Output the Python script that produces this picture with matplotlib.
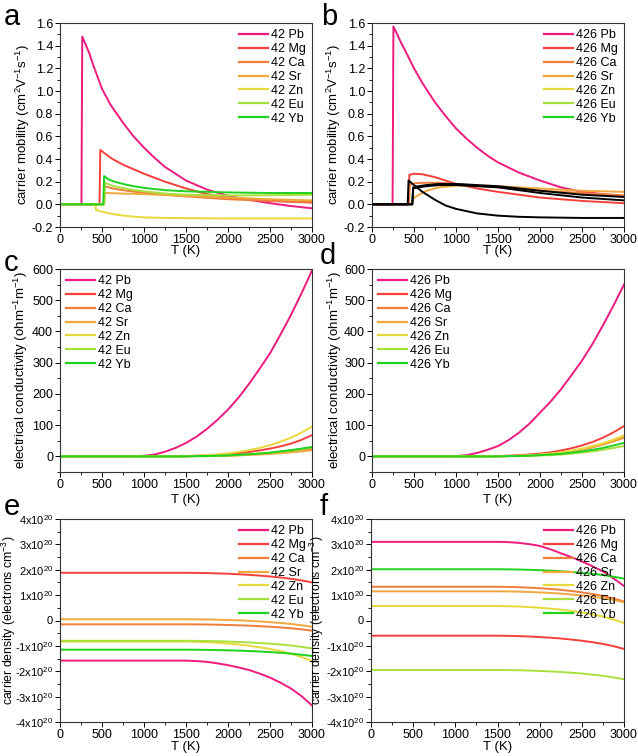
import numpy as np
import matplotlib
matplotlib.use("Agg")
import matplotlib.pyplot as plt
from matplotlib.lines import Line2D
from matplotlib.ticker import MultipleLocator, FuncFormatter

plt.rcParams.update({
    'font.family': ['Liberation Sans', 'DejaVu Sans'],
    'mathtext.default': 'regular',
    'axes.unicode_minus': False,
    'font.size': 9,
})

ELEMS = ["Pb", "Mg", "Ca", "Sr", "Zn", "Eu", "Yb"]
COLORS = ["#EE1A7E", "#F5403A", "#F07D3A", "#F0A83C", "#E8D83C", "#A8E03C", "#1ED21E"]

# ── carrier mobility, 42 (T in K, mu in cm2/Vs) ────────────────────────────────
mob42_T = {
    "Pb": [0, 255, 265, 300, 350, 400, 500, 600, 750, 875, 1000, 1125, 1250, 1375, 1500,
           1750, 2000, 2250, 2500, 2750, 3000],
    "Mg": [0, 470, 480, 550, 625, 750, 875, 1000, 1250, 1500, 1750, 2000, 2500, 3000],
    "Ca": [0, 520, 530, 600, 700, 850, 1000, 1250, 1500, 2000, 2500, 3000],
    "Sr": [0, 525, 535, 750, 1000, 1500, 2000, 2500, 3000],
    "Zn": [0, 420, 430, 500, 600, 700, 850, 1000, 1250, 1500, 2000, 3000],
    "Eu": [0, 525, 535, 600, 700, 850, 1000, 1250, 1500, 2000, 2500, 3000],
    "Yb": [0, 515, 525, 575, 650, 750, 875, 1000, 1250, 1500, 2000, 2500, 3000],
}
mob42_v = {
    "Pb": [0, 0, 1.48, 1.42, 1.33, 1.22, 1.02, 0.88, 0.72, 0.6, 0.5, 0.41, 0.33, 0.27, 0.21,
           0.13, 0.075, 0.04, 0.01, -0.015, -0.035],
    "Mg": [0, 0, 0.48, 0.44, 0.4, 0.35, 0.31, 0.27, 0.2, 0.14, 0.09, 0.06, 0.03, 0.015],
    "Ca": [0, 0, 0.16, 0.145, 0.13, 0.115, 0.1, 0.085, 0.07, 0.045, 0.03, 0.02],
    "Sr": [0, 0, 0.1, 0.095, 0.09, 0.075, 0.06, 0.045, 0.035],
    "Zn": [0, 0, -0.05, -0.065, -0.082, -0.095, -0.107, -0.115, -0.12, -0.122, -0.125, -0.125],
    "Eu": [0, 0, 0.19, 0.17, 0.15, 0.13, 0.115, 0.095, 0.085, 0.078, 0.08, 0.085],
    "Yb": [0, 0, 0.25, 0.22, 0.2, 0.18, 0.16, 0.145, 0.125, 0.115, 0.105, 0.1, 0.1],
}

# ── carrier mobility, 426 ─────────────────────────────────────────────────────
mob426_T = {
    "Pb": [0, 245, 255, 300, 350, 400, 500, 600, 750, 875, 1000, 1125, 1250, 1375, 1500,
           1750, 2000, 2250, 2500, 2750, 3000],
    "Mg": [0, 435, 445, 500, 600, 750, 1000, 1250, 1500, 2000, 2500, 3000],
    "Ca": [0, 440, 450, 500, 600, 800, 1000, 1500, 2000, 2500, 3000],
    "Sr": [0, 475, 485, 550, 650, 800, 1000, 1250, 1500, 2000, 2500, 3000],
    "Zn": [0, 425, 435, 500, 600, 750, 875, 1000, 1250, 1500, 1750, 2000, 2500, 3000],
    "Eu": [0, 480, 490, 550, 650, 800, 1000, 1250, 1500, 2000, 2500, 3000],
    "Yb": [0, 480, 490, 550, 650, 800, 1000, 1250, 1500, 2000, 2500, 3000],
}
mob426_v = {
    "Pb": [0, 0, 1.57, 1.5, 1.42, 1.35, 1.2, 1.07, 0.9, 0.78, 0.67, 0.58, 0.5, 0.43, 0.37,
           0.28, 0.21, 0.15, 0.11, 0.09, 0.07],
    "Mg": [0, 0, 0.26, 0.27, 0.265, 0.24, 0.18, 0.14, 0.11, 0.06, 0.03, 0.01],
    "Ca": [0, 0, 0.17, 0.185, 0.19, 0.19, 0.18, 0.15, 0.12, 0.1, 0.08],
    "Sr": [0, 0, 0.05, 0.08, 0.12, 0.15, 0.165, 0.165, 0.16, 0.14, 0.12, 0.11],
    "Zn": [0, 0, 0.21, 0.17, 0.11, 0.04, -0.01, -0.04, -0.08, -0.1, -0.11, -0.115, -0.12, -0.12],
    "Eu": [0, 0, 0.15, 0.16, 0.17, 0.18, 0.18, 0.17, 0.16, 0.12, 0.085, 0.065],
    "Yb": [0, 0, 0.14, 0.15, 0.16, 0.17, 0.17, 0.16, 0.15, 0.1, 0.06, 0.035],
}
# Zn, Eu, Yb curves show up black in panel b
mob426_line = {"Zn": "black", "Eu": "black", "Yb": "black"}

# ── conductivity and carrier density on a common T grid ──────────────────────
T_grid = [0, 250, 500, 750, 1000, 1125, 1250, 1375, 1500, 1625, 1750, 1875, 2000,
          2125, 2250, 2375, 2500, 2625, 2750, 2875, 3000]

Z8 = [0] * 8   # flat part, 0..1375 K
cond42 = {
    "Pb": [0, 0, 0, 0, 2, 6, 15, 27, 43, 63, 88, 117, 150, 188, 232, 280, 330, 390, 453, 522, 595],
    "Mg": Z8 + [1, 2, 3, 5, 7, 10, 14, 19, 25, 32, 41, 53, 68],
    "Ca": Z8 + [0, 1, 1, 2, 3, 4, 6, 8, 10, 13, 16, 20, 24],
    "Sr": Z8 + [0, 1, 1, 2, 2, 3, 5, 6, 8, 10, 13, 16, 20],
    "Zn": Z8 + [1, 2, 4, 6, 10, 14, 20, 27, 36, 47, 60, 76, 95],
    "Eu": Z8 + [0, 1, 1, 2, 3, 4, 6, 9, 12, 15, 19, 23, 28],
    "Yb": Z8 + [0, 1, 1, 2, 3, 5, 7, 9, 12, 16, 20, 25, 30],
}
cond426 = {
    "Pb": [0, 0, 0, 0, 1, 4, 11, 21, 33, 52, 76, 105, 140, 175, 215, 260, 307, 360, 420, 483, 550],
    "Mg": Z8 + [1, 2, 4, 6, 9, 13, 19, 26, 35, 46, 60, 77, 97],
    "Ca": Z8 + [0, 1, 2, 3, 5, 8, 11, 16, 22, 29, 38, 48, 60],
    "Sr": Z8 + [0, 1, 2, 3, 5, 8, 12, 17, 23, 30, 39, 50, 62],
    "Zn": Z8 + [0, 1, 2, 3, 6, 9, 13, 18, 25, 33, 42, 54, 67],
    "Eu": Z8 + [0, 1, 1, 2, 3, 4, 6, 9, 12, 16, 21, 27, 33],
    "Yb": Z8 + [0, 1, 1, 2, 4, 6, 8, 12, 16, 21, 27, 35, 43],
}

# carrier density in units of 1e20 electrons/cm3 (flat below 1500 K)
dens42 = {
    "Pb": [-1.58] * 8 + [-1.58, -1.60, -1.63, -1.69, -1.76, -1.85, -1.95, -2.09, -2.25, -2.45, -2.68, -2.98, -3.35],
    "Mg": [1.88] * 8 + [1.88, 1.876, 1.869, 1.857, 1.842, 1.823, 1.8, 1.77, 1.736, 1.694, 1.644, 1.58, 1.5],
    "Ca": [-0.15] * 8 + [-0.15, -0.152, -0.158, -0.165, -0.175, -0.188, -0.203, -0.223, -0.245, -0.273, -0.305, -0.348, -0.4],
    "Sr": [0.05] * 8 + [0.05, 0.047, 0.041, 0.032, 0.02, 0.005, -0.013, -0.037, -0.064, -0.097, -0.136, -0.187, -0.25],
    "Zn": [-0.83] * 8 + [-0.83, -0.838, -0.853, -0.876, -0.907, -0.946, -0.992, -1.053, -1.123, -1.207, -1.307, -1.438, -1.6],
    "Eu": [-0.8] * 8 + [-0.8, -0.803, -0.809, -0.818, -0.83, -0.845, -0.863, -0.887, -0.914, -0.947, -0.986, -1.037, -1.1],
    "Yb": [-1.15] * 8 + [-1.15, -1.152, -1.158, -1.165, -1.175, -1.188, -1.203, -1.223, -1.245, -1.273, -1.305, -1.348, -1.4],
}
dens426 = {
    "Pb": [3.1] * 8 + [3.1, 3.09, 3.06, 3.01, 2.94, 2.81, 2.65, 2.5, 2.33, 2.14, 1.93, 1.66, 1.36],
    "Mg": [-0.6] * 8 + [-0.6, -0.605, -0.616, -0.631, -0.652, -0.678, -0.709, -0.751, -0.798, -0.855, -0.922, -1.011, -1.12],
    "Ca": [1.33] * 8 + [1.33, 1.324, 1.313, 1.295, 1.272, 1.243, 1.208, 1.162, 1.11, 1.046, 0.97, 0.872, 0.75],
    "Sr": [1.15] * 8 + [1.15, 1.146, 1.137, 1.124, 1.107, 1.086, 1.06, 1.025, 0.987, 0.939, 0.883, 0.81, 0.72],
    "Zn": [0.57] * 8 + [0.57, 0.563, 0.55, 0.53, 0.503, 0.47, 0.429, 0.376, 0.315, 0.242, 0.155, 0.041, -0.1],
    "Eu": [-1.95] * 8 + [-1.95, -1.954, -1.961, -1.972, -1.987, -2.006, -2.028, -2.057, -2.091, -2.131, -2.179, -2.242, -2.32],
    "Yb": [2.02] * 8 + [2.02, 2.016, 2.009, 1.998, 1.983, 1.964, 1.942, 1.913, 1.879, 1.839, 1.791, 1.728, 1.65],
}

W, H = 638, 756
fig = plt.figure(figsize=(W / 100, H / 100), dpi=100)


def add_ax(left, top, right, bottom):
    return fig.add_axes([left / W, 1 - bottom / H, (right - left) / W, (bottom - top) / H])


ax_a = add_ax(60, 23, 312, 227)
ax_b = add_ax(372, 23, 624, 227)
ax_c = add_ax(60, 269, 312, 472)
ax_d = add_ax(372, 269, 624, 472)
ax_e = add_ax(60, 519, 312, 722)
ax_f = add_ax(371, 519, 624, 722)

LW = 1.4


def style(ax, ymin, ymax, ymaj, ylab, ylab_x, xlab_y, ylab_size=9.5):
    ax.set_xlim(0, 3000)
    ax.set_ylim(ymin, ymax)
    ax.xaxis.set_major_locator(MultipleLocator(500))
    ax.xaxis.set_minor_locator(MultipleLocator(250))
    ax.yaxis.set_major_locator(MultipleLocator(ymaj))
    ax.yaxis.set_minor_locator(MultipleLocator(ymaj / 2))
    ax.tick_params(which='major', direction='out', length=3.5, width=0.7, labelsize=9, pad=1.5)
    ax.tick_params(which='minor', direction='out', length=2, width=0.6)
    for s in ax.spines.values():
        s.set_linewidth(0.8)
        s.set_color('#333333')
    ax.set_xlabel("T (K)", fontsize=9.5)
    ax.xaxis.set_label_coords(0.5, xlab_y)
    ax.set_ylabel(ylab, fontsize=ylab_size)
    ax.yaxis.set_label_coords(ylab_x, 0.5)


def legend(ax, prefix, loc, anchor, colors=COLORS):
    handles = [Line2D([], [], color=c, lw=1.6) for c in colors]
    labels = [f"{prefix} {e}" for e in ELEMS]
    ax.legend(handles, labels, loc=loc, bbox_to_anchor=anchor, frameon=False,
              fontsize=9, handlelength=2.3, handletextpad=0.25, labelspacing=0.15,
              borderaxespad=0.1)


MOB_LAB = "carrier mobility (cm$^2$V$^{-1}$s$^{-1}$)"
COND_LAB = "electrical conductivity (ohm$^{-1}$m$^{-1}$)"
DENS_LAB = "carrier density (electrons cm$^{-3}$)"

# a / b: mobility
for ax, Td, Vd, prefix, black, ylx in [(ax_a, mob42_T, mob42_v, "42", {}, -0.111),
                                       (ax_b, mob426_T, mob426_v, "426", mob426_line, -0.115)]:
    for e, c in zip(ELEMS, COLORS):
        ax.plot(Td[e], Vd[e], color=black.get(e, c), lw=LW)
    style(ax, -0.2, 1.6, 0.2, MOB_LAB, ylx, -0.09)
    ax.yaxis.set_major_formatter(FuncFormatter(lambda v, p: f"{v:.1f}"))
    legend(ax, prefix, 'upper right', (1.0, 1.0))

# c / d: conductivity
for ax, D, prefix, ylx in [(ax_c, cond42, "42", -0.119), (ax_d, cond426, "426", -0.111)]:
    for e, c in zip(ELEMS, COLORS):
        ax.plot(T_grid, D[e], color=c, lw=LW)
    style(ax, -50, 600, 100, COND_LAB, ylx, -0.106)
    legend(ax, prefix, 'upper left', (0.0, 1.0))


def dens_fmt(v, p):
    n = int(round(v))
    return "0" if n == 0 else f"{n}x10$^{{20}}$"


# e / f: carrier density
for ax, D, prefix, ylx in [(ax_e, dens42, "42", -0.166), (ax_f, dens426, "426", -0.178)]:
    for e, c in zip(ELEMS, COLORS):
        ax.plot(T_grid, D[e], color=c, lw=LW)
    style(ax, -4, 4, 1, DENS_LAB, ylx, -0.096, ylab_size=8.8)
    ax.yaxis.set_major_formatter(FuncFormatter(dens_fmt))
    ax.tick_params(axis='y', labelsize=8)
    legend(ax, prefix, 'upper right', (1.0, 1.0))

# panel letters
for lab, x, y in [("a", 4, 25), ("b", 321, 25), ("c", 4, 271), ("d", 320, 264),
                  ("e", 4, 515), ("f", 320, 515)]:
    fig.text(x / W, 1 - y / H, lab, fontsize=21, ha='left', va='baseline')

fig.savefig("out.png", dpi=100, facecolor='white')
